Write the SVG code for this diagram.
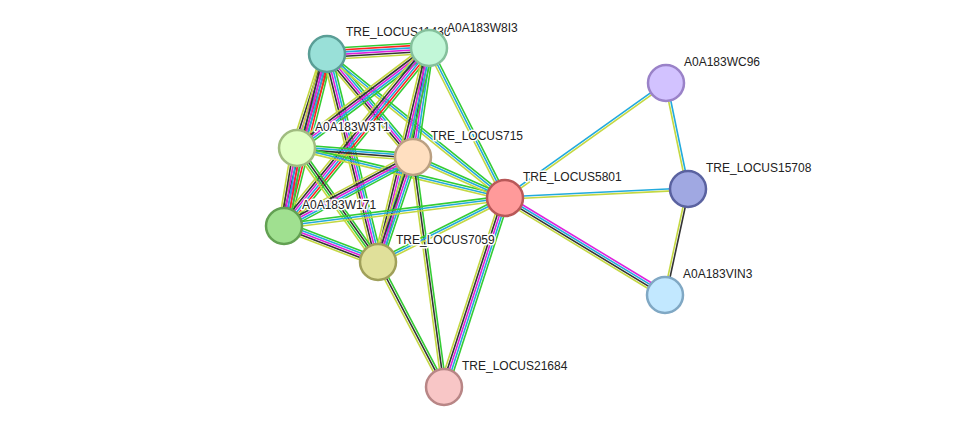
<svg xmlns="http://www.w3.org/2000/svg" width="976" height="433" viewBox="0 0 976 433">
<style>
line{stroke-width:1.6;fill:none}
.g{stroke:#33cc33}.r{stroke:#ff2222}.c{stroke:#22aadd}.m{stroke:#dd22dd}.k{stroke:#333333}.y{stroke:#c4d842}
circle{stroke-width:2.5}
text{font-family:"Liberation Sans",Arial,sans-serif;font-size:12px;fill:#222;stroke:#fff;stroke-width:3;paint-order:stroke;stroke-linejoin:round}
</style>
<rect width="976" height="433" fill="#fff"/>
<g id="edges">
<g transform="translate(327,54) rotate(-3.4)"><line class="g" x2="102" y1="-5.5" y2="-5.5"/><line class="r" x2="102" y1="-3.3" y2="-3.3"/><line class="c" x2="102" y1="-1.1" y2="-1.1"/><line class="m" x2="102" y1="1.1" y2="1.1"/><line class="k" x2="102" y1="3.3" y2="3.3"/><line class="y" x2="102" y1="5.5" y2="5.5"/></g>
<g transform="translate(327,54) rotate(107.7)"><line class="g" x2="99" y1="-5.5" y2="-5.5"/><line class="r" x2="99" y1="-3.3" y2="-3.3"/><line class="c" x2="99" y1="-1.1" y2="-1.1"/><line class="m" x2="99" y1="1.1" y2="1.1"/><line class="k" x2="99" y1="3.3" y2="3.3"/><line class="y" x2="99" y1="5.5" y2="5.5"/></g>
<g transform="translate(327,54) rotate(104)"><line class="g" x2="177" y1="-5.5" y2="-5.5"/><line class="r" x2="177" y1="-3.3" y2="-3.3"/><line class="c" x2="177" y1="-1.1" y2="-1.1"/><line class="m" x2="177" y1="1.1" y2="1.1"/><line class="k" x2="177" y1="3.3" y2="3.3"/><line class="y" x2="177" y1="5.5" y2="5.5"/></g>
<g transform="translate(327,54) rotate(50.1)"><line class="g" x2="134" y1="-4.4" y2="-4.4"/><line class="c" x2="134" y1="-2.2" y2="-2.2"/><line class="m" x2="134" y1="0" y2="0"/><line class="k" x2="134" y1="2.2" y2="2.2"/><line class="y" x2="134" y1="4.4" y2="4.4"/></g>
<g transform="translate(327,54) rotate(76.2)"><line class="g" x2="214" y1="-4.4" y2="-4.4"/><line class="c" x2="214" y1="-2.2" y2="-2.2"/><line class="m" x2="214" y1="0" y2="0"/><line class="k" x2="214" y1="2.2" y2="2.2"/><line class="y" x2="214" y1="4.4" y2="4.4"/></g>
<g transform="translate(327,54) rotate(39)"><line class="g" x2="229" y1="-2.2" y2="-2.2"/><line class="c" x2="229" y1="0" y2="0"/><line class="y" x2="229" y1="2.2" y2="2.2"/></g>
<g transform="translate(429,48) rotate(142.9)"><line class="g" x2="166" y1="-4.4" y2="-4.4"/><line class="c" x2="166" y1="-2.2" y2="-2.2"/><line class="m" x2="166" y1="0" y2="0"/><line class="k" x2="166" y1="2.2" y2="2.2"/><line class="y" x2="166" y1="4.4" y2="4.4"/></g>
<g transform="translate(429,48) rotate(98.4)"><line class="g" x2="110" y1="-4.4" y2="-4.4"/><line class="c" x2="110" y1="-2.2" y2="-2.2"/><line class="m" x2="110" y1="0" y2="0"/><line class="k" x2="110" y1="2.2" y2="2.2"/><line class="y" x2="110" y1="4.4" y2="4.4"/></g>
<g transform="translate(429,48) rotate(129.2)"><line class="g" x2="230" y1="-5.5" y2="-5.5"/><line class="r" x2="230" y1="-3.3" y2="-3.3"/><line class="c" x2="230" y1="-1.1" y2="-1.1"/><line class="m" x2="230" y1="1.1" y2="1.1"/><line class="k" x2="230" y1="3.3" y2="3.3"/><line class="y" x2="230" y1="5.5" y2="5.5"/></g>
<g transform="translate(429,48) rotate(103.4)"><line class="g" x2="220" y1="-4.4" y2="-4.4"/><line class="c" x2="220" y1="-2.2" y2="-2.2"/><line class="m" x2="220" y1="0" y2="0"/><line class="k" x2="220" y1="2.2" y2="2.2"/><line class="y" x2="220" y1="4.4" y2="4.4"/></g>
<g transform="translate(429,48) rotate(63.1)"><line class="g" x2="168" y1="-2.2" y2="-2.2"/><line class="c" x2="168" y1="0" y2="0"/><line class="y" x2="168" y1="2.2" y2="2.2"/></g>
<g transform="translate(297,148) rotate(4.4)"><line class="g" x2="116" y1="-3.3" y2="-3.3"/><line class="c" x2="116" y1="-1.1" y2="-1.1"/><line class="k" x2="116" y1="1.1" y2="1.1"/><line class="y" x2="116" y1="3.3" y2="3.3"/></g>
<g transform="translate(297,148) rotate(99.5)"><line class="g" x2="79" y1="-5.5" y2="-5.5"/><line class="r" x2="79" y1="-3.3" y2="-3.3"/><line class="c" x2="79" y1="-1.1" y2="-1.1"/><line class="m" x2="79" y1="1.1" y2="1.1"/><line class="k" x2="79" y1="3.3" y2="3.3"/><line class="y" x2="79" y1="5.5" y2="5.5"/></g>
<g transform="translate(297,148) rotate(54.6)"><line class="g" x2="140" y1="-3.3" y2="-3.3"/><line class="k" x2="140" y1="-1.1" y2="-1.1"/><line class="g" x2="140" y1="1.1" y2="1.1"/><line class="y" x2="140" y1="3.3" y2="3.3"/></g>
<g transform="translate(297,148) rotate(13.5)"><line class="g" x2="214" y1="-2.2" y2="-2.2"/><line class="c" x2="214" y1="0" y2="0"/><line class="y" x2="214" y1="2.2" y2="2.2"/></g>
<g transform="translate(413,157) rotate(151.9)"><line class="g" x2="146" y1="-4.4" y2="-4.4"/><line class="c" x2="146" y1="-2.2" y2="-2.2"/><line class="m" x2="146" y1="0" y2="0"/><line class="k" x2="146" y1="2.2" y2="2.2"/><line class="y" x2="146" y1="4.4" y2="4.4"/></g>
<g transform="translate(413,157) rotate(108.4)"><line class="g" x2="111" y1="-4.4" y2="-4.4"/><line class="c" x2="111" y1="-2.2" y2="-2.2"/><line class="m" x2="111" y1="0" y2="0"/><line class="k" x2="111" y1="2.2" y2="2.2"/><line class="y" x2="111" y1="4.4" y2="4.4"/></g>
<g transform="translate(413,157) rotate(24)"><line class="g" x2="101" y1="-2.2" y2="-2.2"/><line class="c" x2="101" y1="0" y2="0"/><line class="y" x2="101" y1="2.2" y2="2.2"/></g>
<g transform="translate(413,157) rotate(82.3)"><line class="g" x2="232" y1="-2.2" y2="-2.2"/><line class="k" x2="232" y1="0" y2="0"/><line class="y" x2="232" y1="2.2" y2="2.2"/></g>
<g transform="translate(284,226) rotate(21)"><line class="g" x2="101" y1="-4.4" y2="-4.4"/><line class="c" x2="101" y1="-2.2" y2="-2.2"/><line class="m" x2="101" y1="0" y2="0"/><line class="k" x2="101" y1="2.2" y2="2.2"/><line class="y" x2="101" y1="4.4" y2="4.4"/></g>
<g transform="translate(284,226) rotate(-7.2)"><line class="g" x2="223" y1="-2.2" y2="-2.2"/><line class="c" x2="223" y1="0" y2="0"/><line class="y" x2="223" y1="2.2" y2="2.2"/></g>
<g transform="translate(378,262) rotate(-26.7)"><line class="g" x2="142" y1="-2.2" y2="-2.2"/><line class="c" x2="142" y1="0" y2="0"/><line class="y" x2="142" y1="2.2" y2="2.2"/></g>
<g transform="translate(378,262) rotate(62.2)"><line class="g" x2="141" y1="-2.2" y2="-2.2"/><line class="k" x2="141" y1="0" y2="0"/><line class="y" x2="141" y1="2.2" y2="2.2"/></g>
<g transform="translate(505,198) rotate(107.9)"><line class="g" x2="199" y1="-4.4" y2="-4.4"/><line class="c" x2="199" y1="-2.2" y2="-2.2"/><line class="m" x2="199" y1="0" y2="0"/><line class="k" x2="199" y1="2.2" y2="2.2"/><line class="y" x2="199" y1="4.4" y2="4.4"/></g>
<g transform="translate(505,198) rotate(-35.5)"><line class="c" x2="198" y1="-1.1" y2="-1.1"/><line class="y" x2="198" y1="1.1" y2="1.1"/></g>
<g transform="translate(505,198) rotate(-2.8)"><line class="c" x2="183" y1="-1.1" y2="-1.1"/><line class="y" x2="183" y1="1.1" y2="1.1"/></g>
<g transform="translate(505,198) rotate(31.2)"><line class="m" x2="187" y1="-3.3" y2="-3.3"/><line class="c" x2="187" y1="-1.1" y2="-1.1"/><line class="k" x2="187" y1="1.1" y2="1.1"/><line class="y" x2="187" y1="3.3" y2="3.3"/></g>
<g transform="translate(666,83) rotate(78.3)"><line class="c" x2="108" y1="-1.1" y2="-1.1"/><line class="y" x2="108" y1="1.1" y2="1.1"/></g>
<g transform="translate(688,189) rotate(102.2)"><line class="k" x2="108" y1="-1.1" y2="-1.1"/><line class="y" x2="108" y1="1.1" y2="1.1"/></g>
</g>
<g id="n11436"><circle cx="327" cy="54" r="18" fill="#99e0d8" stroke="#5a9e96"/><text x="346" y="36">TRE_LOCUS11436</text></g>
<g id="nW8I3"><circle cx="429" cy="48" r="18" fill="#c2f7d8" stroke="#85c09c"/><text x="447" y="32">A0A183W8I3</text></g>
<g id="nW3T1"><circle cx="297" cy="148" r="18" fill="#e0ffc4" stroke="#a0bc80"/><text x="315" y="131">A0A183W3T1</text></g>
<g id="n715"><circle cx="413" cy="157" r="18" fill="#ffdfc0" stroke="#bba082"/><text x="431" y="140">TRE_LOCUS715</text></g>
<g id="nW171"><circle cx="284" cy="226" r="18" fill="#a0e090" stroke="#62a052"/><text x="302" y="209">A0A183W171</text></g>
<g id="n7059"><circle cx="378" cy="262" r="18" fill="#e0e09a" stroke="#a0a05a"/><text x="396" y="244">TRE_LOCUS7059</text></g>
<g id="n5801"><circle cx="505" cy="198" r="18" fill="#ff9a9a" stroke="#b85858"/><text x="523" y="181">TRE_LOCUS5801</text></g>
<g id="n21684"><circle cx="444" cy="387" r="18" fill="#f8c6c6" stroke="#b88686"/><text x="462" y="370">TRE_LOCUS21684</text></g>
<g id="nWC96"><circle cx="666" cy="83" r="18" fill="#d2c2ff" stroke="#9a82c8"/><text x="684" y="66">A0A183WC96</text></g>
<g id="n15708"><circle cx="688" cy="189" r="18" fill="#a0a8e2" stroke="#5a62a0"/><text x="706" y="172">TRE_LOCUS15708</text></g>
<g id="nVIN3"><circle cx="665" cy="295" r="18" fill="#c2e8ff" stroke="#80a8c4"/><text x="683" y="278">A0A183VIN3</text></g>
</svg>
